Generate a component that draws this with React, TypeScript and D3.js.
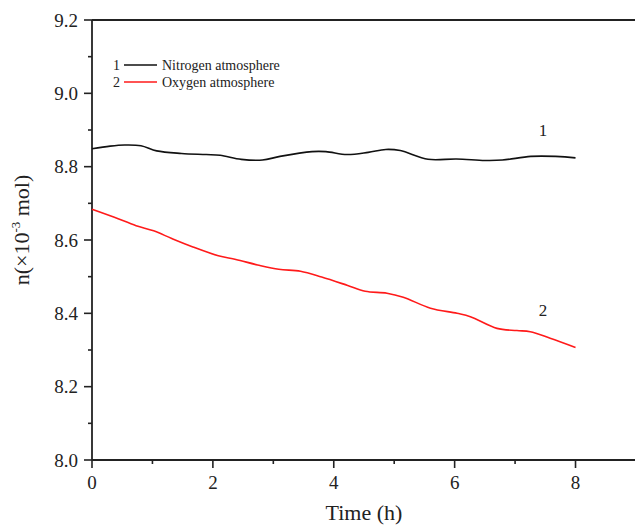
import React from "react";
import * as d3 from "d3";

const nitrogenX = [0, 0.3, 0.54, 0.81, 1.07, 1.48, 1.89, 2.12, 2.47, 2.82, 3.11, 3.64, 3.87, 4.22, 4.57, 4.86, 5.1, 5.56, 6.03, 6.5, 6.79, 7.26, 7.67, 8.0];
const nitrogenY = [8.849, 8.856, 8.859, 8.857, 8.843, 8.836, 8.833, 8.831, 8.82, 8.818, 8.828, 8.841, 8.841, 8.833, 8.839, 8.847, 8.844, 8.82, 8.821, 8.817, 8.818, 8.828, 8.828, 8.824];

const oxygenX = [0, 0.37, 0.73, 1.02, 1.32, 1.67, 2.09, 2.38, 2.74, 3.09, 3.45, 3.8, 4.23, 4.52, 4.88, 5.15, 5.6, 6.04, 6.26, 6.7, 7.03, 7.25, 7.58, 8.0];
const oxygenY = [8.684, 8.662, 8.639, 8.625, 8.604, 8.581, 8.557, 8.547, 8.532, 8.52, 8.515, 8.499, 8.476, 8.46, 8.455, 8.444, 8.414, 8.4, 8.391, 8.359, 8.353, 8.35, 8.332, 8.307];

const xMajorTicks = [0, 2, 4, 6, 8];
const xMinorTicks = [1, 3, 5, 7];
const yMajorTicks = [8.0, 8.2, 8.4, 8.6, 8.8, 9.0, 9.2];
const yMinorTicks = [8.1, 8.3, 8.5, 8.7, 8.9, 9.1];

const seriesNames = ["Nitrogen atmosphere", "Oxygen atmosphere"];
const seriesLabels = ["1", "2"];
const seriesColors = ["#111111", "#ff1a1a"];

export default function App() {
  const W = 635, H = 525;
  const left = 92, top = 20, bottom = 460;
  const x = d3.scaleLinear().domain([0, 9]).range([left, left + 9 * 60.44]);
  const y = d3.scaleLinear().domain([8.0, 9.2]).range([bottom, top]);
  const line = d3
    .line<[number, number]>()
    .x((d) => x(d[0]))
    .y((d) => y(d[1]))
    .curve(d3.curveCatmullRom.alpha(0.5));
  const nData = nitrogenX.map((v, i) => [v, nitrogenY[i]] as [number, number]);
  const oData = oxygenX.map((v, i) => [v, oxygenY[i]] as [number, number]);
  const font = "'Liberation Serif', 'Times New Roman', serif";
  const axisColor = "#222";
  const right = x(9);

  return (
    <svg
      width={W}
      height={H}
      style={{ position: "absolute", left: 0, top: 0, background: "#fff" }}
      fontFamily={font}
    >
      {/* frame */}
      <line x1={left} x2={right} y1={top} y2={top} stroke={axisColor} strokeWidth={1.8} />
      <line x1={left} x2={right} y1={bottom} y2={bottom} stroke={axisColor} strokeWidth={1.8} />
      <line x1={left} x2={left} y1={top} y2={bottom} stroke={axisColor} strokeWidth={1.8} />
      <line x1={right} x2={right} y1={top} y2={bottom} stroke={axisColor} strokeWidth={1.8} />

      {/* y ticks */}
      {yMajorTicks.map((t) => (
        <g key={"ym" + t}>
          <line x1={left - 8} x2={left} y1={y(t)} y2={y(t)} stroke={axisColor} strokeWidth={1.6} />
          <text x={left - 14} y={y(t)} dy="0.35em" textAnchor="end" fontSize={19} fill="#222">
            {t.toFixed(1)}
          </text>
        </g>
      ))}
      {yMinorTicks.map((t) => (
        <line key={"yn" + t} x1={left - 4} x2={left} y1={y(t)} y2={y(t)} stroke={axisColor} strokeWidth={1.6} />
      ))}

      {/* x ticks */}
      {xMajorTicks.map((t) => (
        <g key={"xm" + t}>
          <line x1={x(t)} x2={x(t)} y1={bottom} y2={bottom + 8} stroke={axisColor} strokeWidth={1.6} />
          <text x={x(t)} y={bottom + 29} textAnchor="middle" fontSize={19} fill="#222">
            {t}
          </text>
        </g>
      ))}
      {xMinorTicks.map((t) => (
        <line key={"xn" + t} x1={x(t)} x2={x(t)} y1={bottom} y2={bottom + 4} stroke={axisColor} strokeWidth={1.6} />
      ))}

      {/* axis titles */}
      <text x={x(4.5)} y={520} textAnchor="middle" fontSize={22} fill="#222">
        Time (h)
      </text>
      <text transform={`translate(29,230) rotate(-90)`} textAnchor="middle" fontSize={22} fill="#222">
        n(×10<tspan dy={-9} fontSize={13}>-3</tspan>
        <tspan dy={9}> mol)</tspan>
      </text>

      {/* curves */}
      <path d={line(nData) || ""} fill="none" stroke={seriesColors[0]} strokeWidth={1.6} />
      <path d={line(oData) || ""} fill="none" stroke={seriesColors[1]} strokeWidth={1.6} />

      {/* curve labels */}
      <text x={543} y={y(8.901)} dy="0.35em" textAnchor="middle" fontSize={17} fill="#222">
        {seriesLabels[0]}
      </text>
      <text x={543} y={y(8.41)} dy="0.35em" textAnchor="middle" fontSize={17} fill="#222">
        {seriesLabels[1]}
      </text>

      {/* legend */}
      {seriesNames.map((name, i) => (
        <g key={name} transform={`translate(0, ${65 + i * 17})`}>
          <text x={120} y={0} dy="0.35em" textAnchor="end" fontSize={14} fill="#222">
            {seriesLabels[i]}
          </text>
          <line x1={124} x2={157} y1={0} y2={0} stroke={seriesColors[i]} strokeWidth={1.6} />
          <text x={162} y={0} dy="0.35em" fontSize={14} fill="#222">
            {name}
          </text>
        </g>
      ))}
    </svg>
  );
}
